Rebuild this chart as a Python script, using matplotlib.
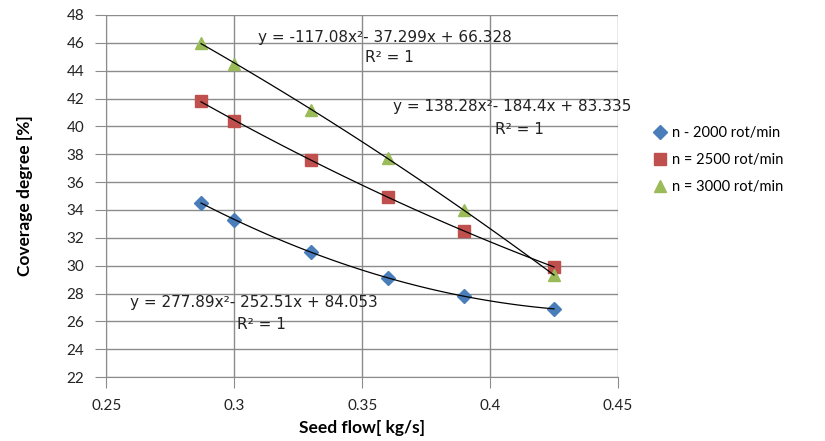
import matplotlib
matplotlib.use("Agg")
import matplotlib.pyplot as plt
import numpy as np

plt.rcParams['font.family'] = ['Lato', 'DejaVu Sans']

# seed flow [kg/s]
seed_flow = [0.287, 0.30, 0.33, 0.36, 0.39, 0.425]
# coverage degree [%]
cov_2000 = [34.5, 33.3, 31.0, 29.1, 27.8, 26.9]
cov_2500 = [41.8, 40.4, 37.6, 34.9, 32.5, 29.9]
cov_3000 = [46.0, 44.5, 41.2, 37.7, 34.0, 29.3]

labels = ['n - 2000 rot/min', 'n = 2500 rot/min', 'n = 3000 rot/min']
equations = ['y = 277.89x²- 252.51x + 84.053',
             'y = 138.28x²- 184.4x + 83.335',
             'y = -117.08x²- 37.299x + 66.328']

fig = plt.figure(figsize=(8.25, 4.41), dpi=100)
ax = fig.add_axes([0.129, 0.145, 0.620, 0.821])

series = [(cov_2000, 'D', '#4a7ebb', 7), (cov_2500, 's', '#c0504d', 9), (cov_3000, '^', '#9bbb59', 9)]
xs = np.array(seed_flow)
xfit = np.linspace(xs.min(), xs.max(), 100)
for (ys, m, c, ms), lab in zip(series, labels):
    ax.plot(xs, ys, linestyle='none', marker=m, color=c, markersize=ms, label=lab, zorder=3)
    coef = np.polyfit(xs, ys, 2)
    ax.plot(xfit, np.polyval(coef, xfit), color='black', lw=0.9, zorder=4)

# trendline equations
eq_pos = [(0.2594, 27.37, 0.301, 25.8), (0.362, 41.41, 0.402, 39.76), (0.3094, 46.35, 0.351, 44.92)]
for eq, (ex, ey, rx, ry) in zip(equations, eq_pos):
    ax.text(ex, ey, eq, fontsize=11, va='center', ha='left', color='#222222', family='DejaVu Sans')
    ax.text(rx, ry, 'R² = 1', fontsize=11, va='center', ha='left', color='#222222', family='DejaVu Sans')

ax.set_xlim(0.25, 0.45)
ax.set_ylim(22, 48)
ax.set_xticks([0.25, 0.3, 0.35, 0.4, 0.45])
ax.set_xticklabels(['0.25', '0.3', '0.35', '0.4', '0.45'])
ax.set_yticks(range(22, 49, 2))
ax.tick_params(labelsize=11, colors='#222222', length=8, color='#8c8c8c', pad=8)
ax.grid(True, color='#8c8c8c', lw=1)
ax.set_axisbelow(True)
for s in ['top', 'right']:
    ax.spines[s].set_visible(False)
for s in ['left', 'bottom']:
    ax.spines[s].set_color('#8c8c8c')

ax.set_xlabel('Seed flow[ kg/s]', fontsize=12.5, fontweight='bold', labelpad=5)
ax.set_ylabel('Coverage degree [%]', fontsize=12.5, fontweight='bold', labelpad=24)

ax.legend(loc='center left', bbox_to_anchor=(1.04, 0.60), frameon=False, fontsize=10.5,
          handletextpad=0.2, labelspacing=0.9, handlelength=1.2)

fig.savefig('out.png', dpi=100)
